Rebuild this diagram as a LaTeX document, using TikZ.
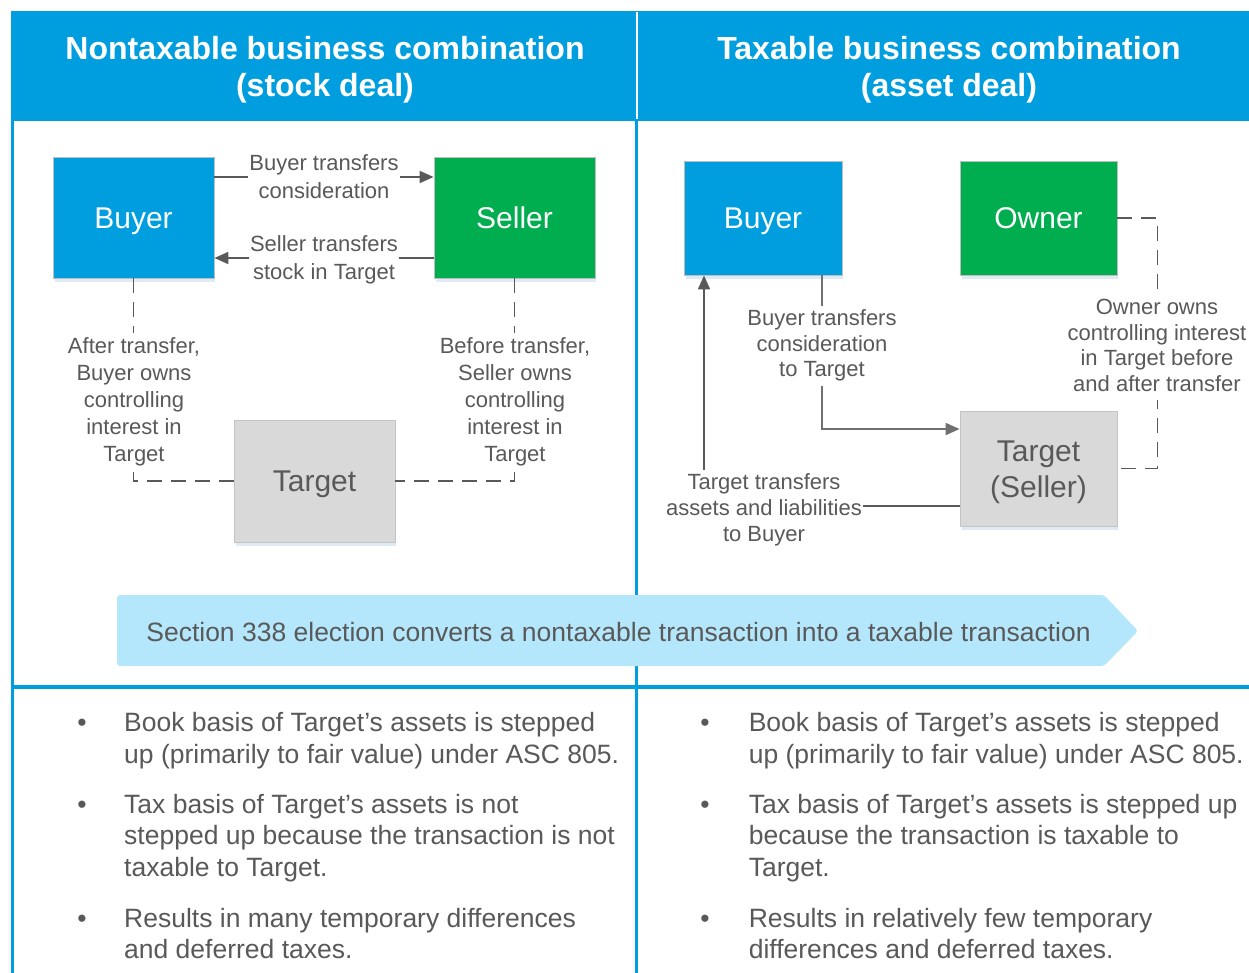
\documentclass[tikz,border=0pt]{standalone}
\usepackage{fontspec}
\setmainfont{Liberation Sans}
\usetikzlibrary{arrows.meta}
\definecolor{hdr}{RGB}{0,158,222}
\definecolor{grn}{RGB}{0,173,79}
\definecolor{gbox}{RGB}{217,217,217}
\definecolor{gline}{RGB}{196,196,196}
\definecolor{boxline}{RGB}{190,190,190}
\definecolor{shd}{RGB}{222,234,244}
\definecolor{txt}{RGB}{89,89,89}
\definecolor{lne}{RGB}{89,89,89}
\definecolor{lneR}{RGB}{112,112,112}
\definecolor{ban}{RGB}{180,231,251}
\tikzset{
  ent/.style={draw=boxline, line width=0.8pt, inner sep=0pt,
    font=\fontsize{30}{36}\selectfont, text height=21.5pt, text depth=0pt},
  entblue/.style={ent, fill=hdr, text=white},
  entgreen/.style={ent, fill=grn, text=white},
  entgray/.style={ent, fill=gbox, text=txt, draw=gline},
  hdrtxt/.style={font=\fontsize{32}{37}\selectfont\bfseries, text=white, align=center, inner sep=0pt},
  lblL/.style={fill=white, inner sep=1.5pt, align=center, text=txt, font=\fontsize{22}{27.2}\selectfont},
  lblR/.style={fill=white, inner sep=1.5pt, align=center, text=txt, font=\fontsize{22}{25.8}\selectfont},
  arr/.style={draw=lne, line width=1.8pt, -{Triangle[length=14pt,width=12pt]}},
  arrR/.style={draw=lneR, line width=1.8pt, -{Triangle[length=14pt,width=12pt]}},
  dsh/.style={draw=lne, line width=1.8pt, dash pattern=on 15pt off 9pt},
  bul/.style={anchor=base, inner sep=0pt, text=txt, font=\fontsize{26.5}{31.7}\selectfont},
  para/.style={anchor=north west, align=left, inner sep=0pt, text=txt, font=\fontsize{26.5}{31.7}\selectfont},
}
\begin{document}
\begin{tikzpicture}[x=1pt,y=-1pt]
\useasboundingbox (0,0) rectangle (1249,973);
\fill[white] (0,0) rectangle (1249,973);

% header
\fill[hdr] (11,11) rectangle (1249,121);
\draw[white, line width=2.5pt] (637,12) -- (637,119);
\node[hdrtxt] (h1) at (325,70.8) {\strut Nontaxable business combination\\(stock deal)\strut};
\node[hdrtxt] (h2) at (949,70.8) {\strut Taxable business combination\\(asset deal)\strut};

% table borders
\draw[hdr, line width=3.5pt] (12.5,121) -- (12.5,973);
\draw[hdr, line width=3.5pt] (636.5,121) -- (636.5,973);
\draw[hdr, line width=4pt] (11,687) -- (1249,687);

% soft shadows under the boxes
\fill[shd] (55,279) rectangle (215,282);
\fill[shd] (436,279) rectangle (596,282);
\fill[shd] (236,543) rectangle (396,546);
\fill[shd] (686,276) rectangle (843,279);
\fill[shd] (962,276) rectangle (1118,279);
\fill[shd] (962,527) rectangle (1118,530);

% left panel boxes
\node[entblue, minimum width=161pt, minimum height=121pt] (BuyerL) at (133.5,217.5) {Buyer};
\node[entgreen, minimum width=161pt, minimum height=121pt] (SellerL) at (514.5,217.5) {Seller};
\node[entgray, minimum width=161pt, minimum height=122pt] (TargetL) at (314.5,481) {Target};

% left connectors
\draw[arr] ([yshift=40.5pt]BuyerL.east) -- node[lblL, yshift=-2pt] (lc1) {\strut Buyer transfers\\consideration\strut} ([yshift=40.5pt]SellerL.west);
\draw[arr] ([yshift=-40.5pt]SellerL.west) -- node[lblL, yshift=-2pt] (lc2) {\strut Seller transfers\\stock in Target\strut} ([yshift=-40.5pt]BuyerL.east);
\draw[dsh] (BuyerL.south) |- (TargetL.west);
\draw[dsh] (SellerL.south) |- (TargetL.east);
\node[lblL] (lc3) at (134,402) {\strut After transfer,\\Buyer owns\\controlling\\interest in\\Target\strut};
\node[lblL] (lc4) at (515,402) {\strut Before transfer,\\Seller owns\\controlling\\interest in\\Target\strut};

% right panel boxes
\node[entblue, minimum width=158pt, minimum height=114pt] (BuyerR) at (763,218) {Buyer};
\node[entgreen, minimum width=157pt, minimum height=114pt] (Owner) at (1038.5,218) {Owner};
\node[entgray, minimum width=157pt, minimum height=115pt, text height=, text depth=, align=center] (TargetR) at (1038.5,468.5) {\rule{0pt}{30pt}Target\\(Seller)\rule[-8pt]{0pt}{8pt}};

% right connectors
\draw[arrR] ([xshift=59pt]BuyerR.south) |- ([yshift=39.5pt]TargetR.west);
\draw[arr] ([yshift=-37.5pt]TargetR.west) -| ([xshift=-59pt]BuyerR.south);
\draw[dsh] (Owner.east) -- ++(40,0) |- (TargetR.east);
\node[lblR] (rc1) at (822,345.9) {\strut Buyer transfers\\consideration\\to Target\strut};
\node[lblR, font=\fontsize{22}{26.2}\selectfont] (rc2) at (764,510.3) {\strut Target transfers\\assets and liabilities\\to Buyer\strut};
\node[lblR, font=\fontsize{22}{25.5}\selectfont] (rc3) at (1157,347.7) {\strut Owner owns\\controlling interest\\in Target before\\and after transfer\strut};

% banner
\fill[ban, rounded corners=3pt] (117,595) -- (1104,595) -- (1138,631) -- (1104,666) -- (117,666) -- cycle;
\node[inner sep=0pt, text=txt, font=\fontsize{26.5}{31.7}\selectfont, text height=19pt, text depth=0pt] (bantxt) at (618.5,632) {Section 338 election converts a nontaxable transaction into a taxable transaction};

% bullets left
\node[bul] (lb1) at (82,731.7) {•};
\node[para] (lp1) at (124,709.5) {\strut Book basis of Target’s assets is stepped\\up (primarily to fair value) under ASC 805.\strut};
\node[bul] (lb2) at (82,813) {•};
\node[para] (lp2) at (124,790.8) {\strut Tax basis of Target’s assets is not\\stepped up because the transaction is not\\taxable to Target.\strut};
\node[bul] (lb3) at (82,927) {•};
\node[para] (lp3) at (124,904.8) {\strut Results in many temporary differences\\and deferred taxes.\strut};

% bullets right
\node[bul] (rb1) at (705,731.7) {•};
\node[para] (rp1) at (748.6,709.5) {\strut Book basis of Target’s assets is stepped\\up (primarily to fair value) under ASC 805.\strut};
\node[bul] (rb2) at (705,813) {•};
\node[para] (rp2) at (748.6,790.8) {\strut Tax basis of Target’s assets is stepped up\\because the transaction is taxable to\\Target.\strut};
\node[bul] (rb3) at (705,927) {•};
\node[para] (rp3) at (748.6,904.8) {\strut Results in relatively few temporary\\differences and deferred taxes.\strut};
\end{tikzpicture}
\end{document}
